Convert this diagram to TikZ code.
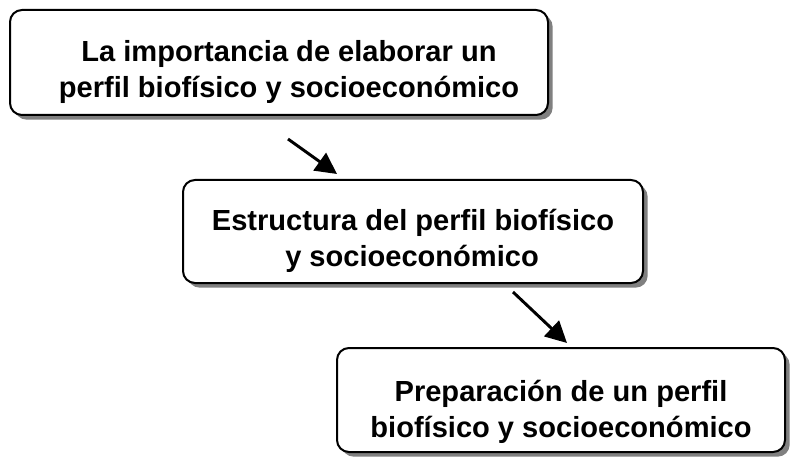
\documentclass[tikz,border=0pt]{standalone}
\usepackage{fontspec}
\setmainfont{Liberation Sans}
\usetikzlibrary{arrows.meta,shadows}

% strut that pushes the text of a box a little down
\newcommand{\boxstrut}[1][30pt]{\rule{0pt}{#1}}

\tikzset{
  box/.style={draw, line width=1.5pt, rounded corners=9pt, fill=white,
    drop shadow={shadow xshift=3.5pt, shadow yshift=-3.5pt, fill=gray, opacity=1},
    align=center, inner sep=0pt,
    font=\bfseries\fontsize{21.8}{27}\selectfont},
  step arrow/.style={line width=2.2pt, -{Triangle[length=16pt, width=16pt]}}
}

\begin{document}
\begin{tikzpicture}[x=0.75pt, y=-0.75pt]
  \useasboundingbox (0,0) rectangle (790,460);

  % the three boxes
  \node[box, minimum width=403.5pt, minimum height=78.75pt] (intro) at (279,62.5)
    {\boxstrut\hspace*{15pt}La importancia de elaborar un\\\hspace*{15pt}perfil biofísico y socioeconómico};
  \node[box, align=left, minimum width=345pt, minimum height=77.25pt] (estructura) at (413,231.5)
    {\boxstrut Estructura del perfil biofísico\\\hspace*{55pt}y socioeconómico};
  \node[box, minimum width=336pt, minimum height=78pt] (preparacion) at (561,400)
    {\boxstrut[34pt]Preparación de un perfil\\biofísico y socioeconómico};

  % arrows between the boxes
  \coordinate (a1) at (288,139);
  \coordinate (b1) at (337,174);
  \coordinate (a2) at (513,292);
  \coordinate (b2) at (567,343);
  \draw[step arrow] (a1) -- (b1);
  \draw[step arrow] (a2) -- (b2);
\end{tikzpicture}
\end{document}
